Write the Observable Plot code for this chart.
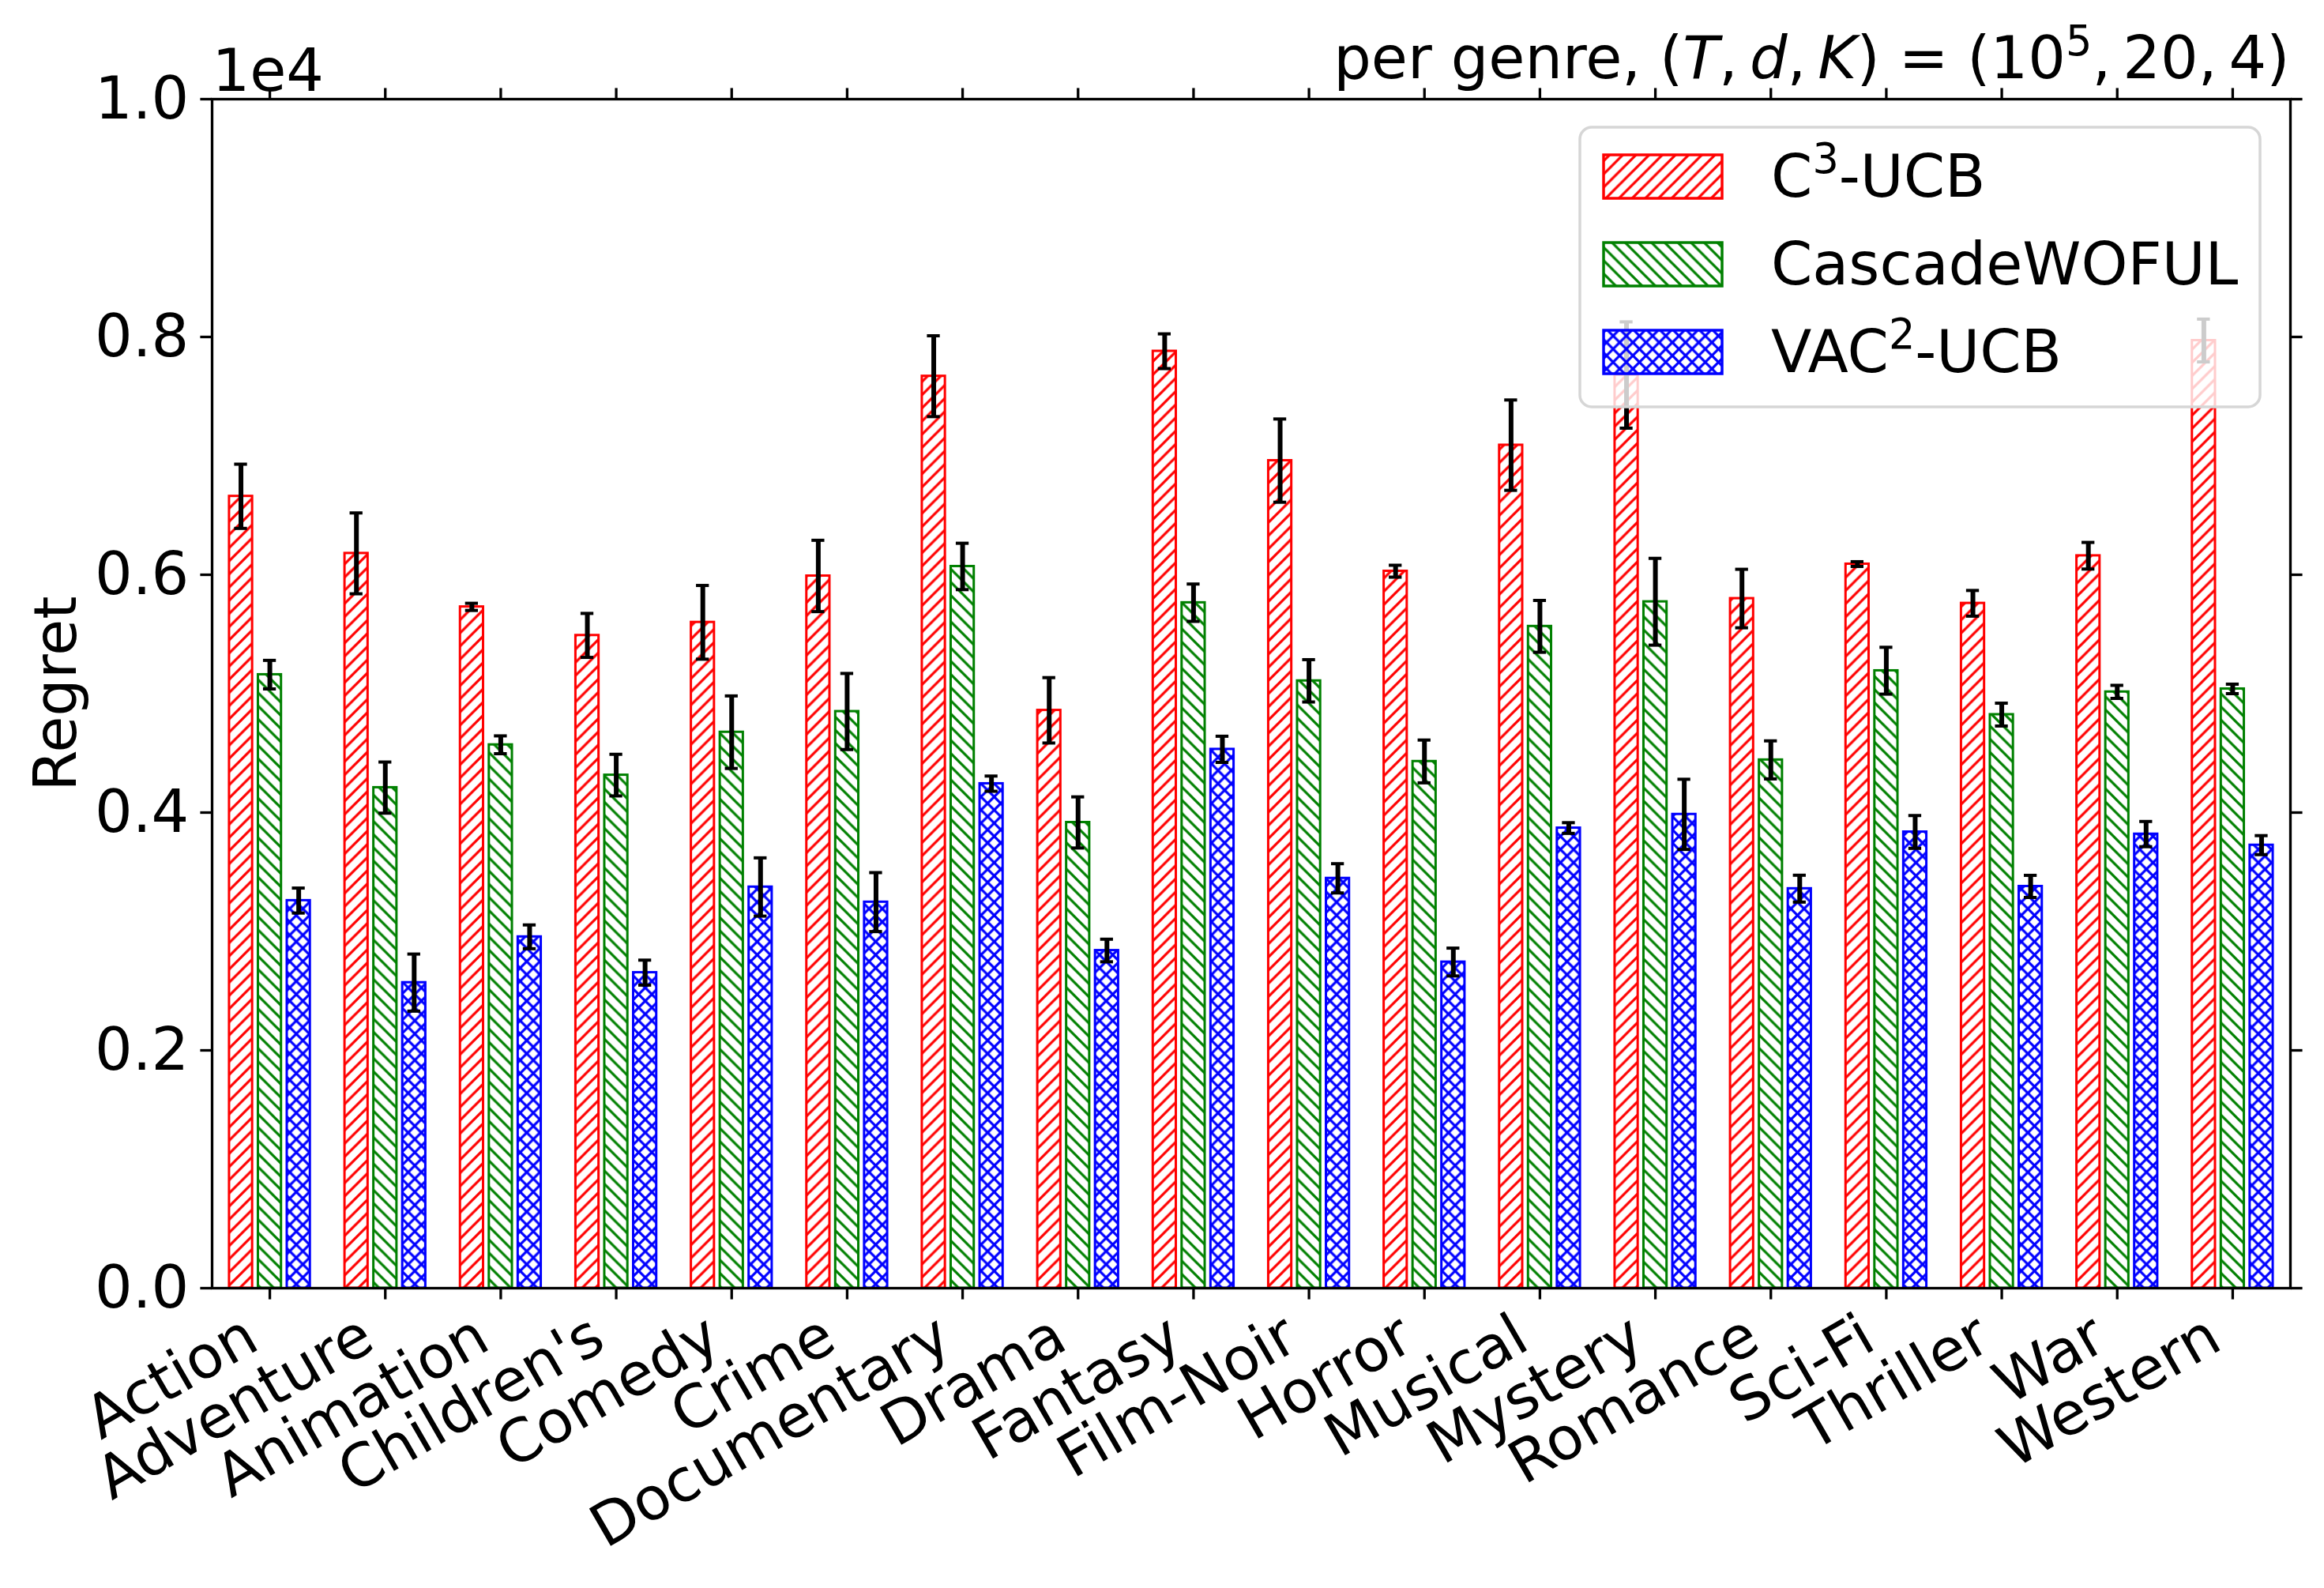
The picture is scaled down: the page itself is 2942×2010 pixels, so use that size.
<!DOCTYPE html>
<html><head><meta charset="utf-8">
<script src="https://cdn.jsdelivr.net/npm/d3@7"></script>
<script src="https://cdn.jsdelivr.net/npm/@observablehq/plot@0.6"></script>
<style>
html,body{margin:0;padding:0;background:#fff;}
svg text{font-family:"DejaVu Sans";}
</style></head><body><div id="chart"></div>
<script>
// ---- data (regret, raw units; axis shown in units of 1e4) ----
const genres = ["Action","Adventure","Animation","Children's","Comedy","Crime","Documentary","Drama","Fantasy","Film-Noir","Horror","Musical","Mystery","Romance","Sci-Fi","Thriller","War","Western"];
const c3Mean = [6660,6180,5730,5490,5600,5990,7670,4860,7880,6960,6030,7090,7680,5800,6090,5760,6160,7970];
const c3Err  = [270,340,30,185,310,300,340,275,146,350,50,380,447,246,20,108,112,180];
const cwMean = [5160,4210,4570,4315,4676,4850,6070,3917,5765,5108,4430,5566,5773,4443,5193,4824,5015,5040];
const cwErr  = [120,215,75,175,305,320,195,215,157,178,180,218,365,160,197,96,55,40];
const vacMean = [3260,2570,2955,2654,3374,3247,4243,2840,4532,3447,2743,3870,3985,3360,3837,3379,3819,3726];
const vacErr  = [105,240,100,105,245,248,64,95,110,123,117,45,295,113,138,93,106,80];
const yTicks = [0, 0.2, 0.4, 0.6, 0.8, 1.0];
const scaleExp = 1e4;

// ---- layout / style ----
const W = 2942, H = 2010;
const mL = 268, mR = 43, mT = 125, mB = 380;
const FS = 75;
const series = [
  {label: [["C"],["3","sup"],["-UCB"]], mean: c3Mean, err: c3Err, color: "#ff0000", pat: "hatch-ne", offset: -0.25},
  {label: [["CascadeWOFUL"]], mean: cwMean, err: cwErr, color: "#008000", pat: "hatch-nw", offset: 0},
  {label: [["VAC"],["2","sup"],["-UCB"]], mean: vacMean, err: vacErr, color: "#0000ff", pat: "hatch-x", offset: 0.25}
];
const barW = 0.2, capHalf = 0.0558;

const rows = series.flatMap((s, k) => genres.map((g, i) => ({
  genre: g, k, pos: i + s.offset, mean: s.mean[i] / scaleExp, err: s.err[i] / scaleExp
})));

const titleKey = "per genre, (T, d, K) = (10^5, 20, 4)";

const marks = [];
series.forEach((s, k) => {
  marks.push(Plot.rect(rows.filter(d => d.k === k), {
    x1: d => d.pos - barW / 2, x2: d => d.pos + barW / 2, y1: 0, y2: "mean",
    fill: `url(#${s.pat})`, stroke: s.color, strokeWidth: 3
  }));
});
marks.push(
  Plot.ruleX(rows, {x: "pos", y1: d => d.mean - d.err, y2: d => d.mean + d.err, stroke: "black", strokeWidth: 6}),
  Plot.ruleY(rows, {y: d => d.mean + d.err, x1: d => d.pos - capHalf, x2: d => d.pos + capHalf, stroke: "black", strokeWidth: 4}),
  Plot.ruleY(rows, {y: d => d.mean - d.err, x1: d => d.pos - capHalf, x2: d => d.pos + capHalf, stroke: "black", strokeWidth: 4}),
  Plot.frame({stroke: "black", strokeWidth: 3.3}),
  Plot.axisY({ticks: yTicks, tickFormat: d3.format(".1f"), tickSize: 14.6, tickPadding: 14.6, fontSize: FS, strokeWidth: 3.3, label: null}),
  Plot.axisY({anchor: "right", ticks: yTicks, tickFormat: () => "", tickSize: 14.6, strokeWidth: 3.3, label: null}),
  Plot.axisX({ticks: d3.range(genres.length), tickFormat: () => "", tickSize: 14.6, strokeWidth: 3.3, label: null}),
  Plot.axisX({anchor: "top", ticks: d3.range(genres.length), tickFormat: () => "", tickSize: 14.6, strokeWidth: 3.3, label: null}),
  Plot.text(genres, {x: (d, i) => i, frameAnchor: "bottom", text: d => d, rotate: -30, textAnchor: "end", lineAnchor: "top", dx: -37, dy: 29, fontSize: FS, fill: "black"}),
  Plot.text(["Regret"], {frameAnchor: "left", text: d => d, rotate: -90, textAnchor: "middle", lineAnchor: "middle", dx: -197, fontSize: FS, fill: "black"}),
  Plot.text(["1e4"], {frameAnchor: "top-left", text: d => d, textAnchor: "start", lineAnchor: "bottom", dy: -11, fontSize: FS, fill: "black"}),
  Plot.text([titleKey], {frameAnchor: "top-right", text: d => d, textAnchor: "end", lineAnchor: "bottom", dy: -27, dx: -1, fontSize: FS, fill: "black"})
);

const plot = Plot.plot({
  width: W, height: H,
  marginLeft: mL, marginRight: mR, marginTop: mT, marginBottom: mB,
  style: {fontFamily: "DejaVu Sans", fontSize: FS + "px", background: "white", color: "black"},
  x: {type: "linear", domain: [-0.5, genres.length - 0.5]},
  y: {type: "linear", domain: [0, 1]},
  marks
});
document.getElementById("chart").appendChild(plot);

const svg = d3.select(plot);
// hatch patterns
const defs = svg.insert("defs", ":first-child");
const sp = 16.67;
const ne = `M0,${sp} L${sp},0 M${-sp/2},${sp/2} L${sp/2},${-sp/2} M${sp/2},${1.5*sp} L${1.5*sp},${sp/2}`;
const nw = `M0,0 L${sp},${sp} M${-sp/2},${sp/2} L${sp/2},${1.5*sp} M${sp/2},${-sp/2} L${1.5*sp},${sp/2}`;
[["hatch-ne", [ne], "#ff0000"], ["hatch-nw", [nw], "#008000"], ["hatch-x", [ne, nw], "#0000ff"]].forEach(([id, paths, col]) => {
  const p = defs.append("pattern").attr("id", id).attr("patternUnits", "userSpaceOnUse")
    .attr("width", sp).attr("height", sp);
  paths.forEach(d => p.append("path").attr("d", d).attr("stroke", col).attr("stroke-width", 3.2).attr("fill", "none"));
});

// rich title text
svg.selectAll("text").filter(function () { return this.textContent === titleKey; }).each(function () {
  const t = d3.select(this);
  t.text(null);
  const parts = [["per genre, "], ["("], ["T", "i"], [",\u2009"], ["d", "i"], [",\u2009"], ["K", "i"], [") = (10"], ["5", "sup"], [",\u200920,\u20094)"]];
  let raised = false;
  parts.forEach(([s, kind]) => {
    const ts = t.append("tspan").text(s);
    if (kind === "i") ts.attr("font-style", "italic");
    if (kind === "sup") { ts.attr("font-size", FS * 0.7).attr("dy", -29); raised = true; }
    else if (raised) { ts.attr("dy", 29); raised = false; }
  });
});

// legend
const lg = svg.append("g").attr("font-family", "DejaVu Sans").attr("font-size", FS).attr("text-anchor", "start");
lg.append("rect").attr("x", 2000).attr("y", 161).attr("width", 861).attr("height", 354).attr("rx", 15)
  .attr("fill", "white").attr("fill-opacity", 0.8).attr("stroke", "#d6d6d6").attr("stroke-width", 3.5);
series.forEach((s, k) => {
  const cy = 223.5 + k * 111;
  lg.append("rect").attr("x", 2030).attr("y", cy - 27.5).attr("width", 150).attr("height", 55)
    .attr("fill", `url(#${s.pat})`).attr("stroke", s.color).attr("stroke-width", 3.5);
  const t = lg.append("text").attr("x", 2242).attr("y", cy + 25).attr("fill", "black").attr("text-anchor", "start");
  let raised = false;
  s.label.forEach(([str, kind]) => {
    const ts = t.append("tspan").text(str);
    if (kind === "sup") { ts.attr("font-size", FS * 0.7).attr("dy", -30); raised = true; }
    else if (raised) { ts.attr("dy", 30); raised = false; }
  });
});
</script></body></html>
